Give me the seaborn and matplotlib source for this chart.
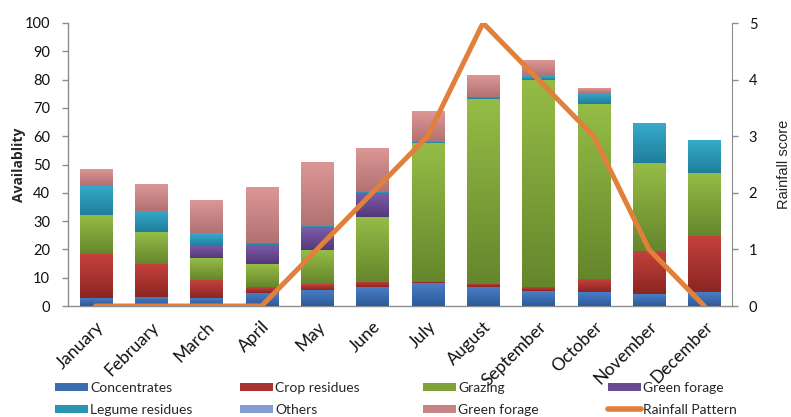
import numpy as np
import pandas as pd
import matplotlib
matplotlib.use("Agg")
import matplotlib.pyplot as plt
from matplotlib.colors import to_rgb
from matplotlib.patches import Patch
from matplotlib.lines import Line2D
import seaborn as sns

# ---- data -------------------------------------------------------------
months = ["January", "February", "March", "April", "May", "June", "July",
          "August", "September", "October", "November", "December"]

concentrates    = [3.0, 3.3, 2.9, 4.7, 5.7, 6.6, 8.0, 6.8, 5.3, 4.9, 4.2, 4.9]
crop_residues   = [15.3, 11.4, 6.3, 2.1, 2.1, 1.9, 0.5, 1.1, 1.3, 4.5, 15.2, 19.9]
grazing         = [13.9, 11.3, 7.6, 7.9, 12.0, 22.8, 49.0, 65.1, 73.3, 61.9, 31.0, 22.1]
green_forage_a  = [0.0, 0.0, 4.5, 6.8, 7.6, 8.2, 0.0, 0.0, 0.0, 0.0, 0.0, 0.0]
legume_residues = [10.6, 7.6, 4.4, 0.8, 0.9, 0.8, 0.5, 1.0, 1.3, 4.1, 14.1, 11.4]
others          = [0.0] * 12
green_forage_b  = [5.6, 9.2, 11.5, 19.6, 22.3, 15.4, 10.7, 7.5, 5.4, 1.5, 0.0, 0.0]

rainfall = [0, 0, 0, 0, 1, 2, 3, 5, 4, 3, 1, 0]

series_names = ["Concentrates", "Crop residues", "Grazing", "Green forage",
                "Legume residues", "Others", "Green forage"]
series_values = [concentrates, crop_residues, grazing, green_forage_a,
                 legume_residues, others, green_forage_b]
# (top colour, bottom colour) of each segment's vertical gradient
series_colors = [("#4a7ec6", "#2d5a9a"),
                 ("#c4423d", "#8c2522"),
                 ("#95bc46", "#66862c"),
                 ("#7d5ca8", "#533979"),
                 ("#37aacb", "#1f7f9b"),
                 ("#98b1e2", "#6e8bc4"),
                 ("#dd9696", "#b27272")]
rain_color = "#e0803a"
axis_gray = "#8c8c8c"

# ---- figure -----------------------------------------------------------
sns.set_style("white")
plt.rcParams["font.family"] = ["Lato", "DejaVu Sans"]

fig = plt.figure(figsize=(7.91, 4.17), dpi=100)
ax = fig.add_axes([68 / 791, 111 / 417, 664 / 791, 283 / 417])

df = pd.DataFrame({"month": months})
cum = np.zeros(12)
cums = []
for vals in series_values:
    cum = cum + np.array(vals)
    cums.append(cum.copy())
for k in range(len(series_values)):
    df[f"s{k}"] = cums[k]

bar_width = 0.58
# stacked bars: cumulative totals drawn from the top layer downwards
layer_patches = {}
for k in reversed(range(len(series_values))):
    n_before = len(ax.patches)
    sns.barplot(data=df, x="month", y=f"s{k}", order=months,
                color=series_colors[k][0], saturation=1, width=bar_width,
                errorbar=None, ax=ax, zorder=2)
    layer_patches[k] = ax.patches[n_before:]

# vertical gradient on every visible segment
grad = np.linspace(1, 0, 64).reshape(-1, 1)
for k in range(len(series_values)):
    top_c = np.array(to_rgb(series_colors[k][0]))
    bot_c = np.array(to_rgb(series_colors[k][1]))
    img = (grad[..., None] * top_c + (1 - grad[..., None]) * bot_c)
    for i, patch in enumerate(layer_patches[k]):
        lo = cums[k - 1][i] if k > 0 else 0.0
        hi = cums[k][i]
        if hi - lo <= 0:
            continue
        x0 = patch.get_x()
        ax.imshow(img, extent=[x0, x0 + patch.get_width(), lo, hi],
                  aspect="auto", interpolation="bilinear", zorder=3)

ax.set_xlim(-0.5, 11.5)
ax.set_ylim(0, 100)
ax.set_yticks(np.arange(0, 101, 10))
ax.set_xticks(range(12))
ax.set_xticklabels(months, rotation=45, ha="right", va="top",
                   rotation_mode="anchor", fontsize=12.5, color="#111111")
ax.set_xlabel("")
ax.set_ylabel("Availablity", fontsize=10, fontweight="bold",
              family="Open Sans")
ax.yaxis.set_label_coords(-0.063, 0.5)
ax.tick_params(axis="y", labelsize=10.5, colors="#111111", length=4,
               width=1, color=axis_gray, direction="out", left=True, pad=9)
ax.tick_params(axis="x", length=0, pad=9)
for s in ["top", "right"]:
    ax.spines[s].set_visible(False)
for s in ["left", "bottom"]:
    ax.spines[s].set_color(axis_gray)
    ax.spines[s].set_linewidth(1)

# rainfall pattern on the secondary axis
ax2 = ax.twinx()
sns.lineplot(x=np.arange(12), y=rainfall, ax=ax2, color=rain_color,
             linewidth=3.6, legend=False, solid_joinstyle="miter")
ax2.set_ylim(0, 5)
ax2.set_yticks(range(6))
ax2.set_xlim(-0.5, 11.5)
ax2.set_ylabel("Rainfall score", fontsize=10.5, family="Liberation Sans")
ax2.yaxis.set_label_coords(1.068, 0.5)
ax2.tick_params(axis="y", labelsize=10.5, colors="#111111", length=4,
                width=1, color=axis_gray, direction="out", right=True, pad=8)
for s in ["top", "left", "bottom"]:
    ax2.spines[s].set_visible(False)
ax2.spines["right"].set_color(axis_gray)

# legend laid out as four fixed columns
def mid(c):
    a, b = np.array(to_rgb(c[0])), np.array(to_rgb(c[1]))
    return tuple((a + b) / 2)

handles = [Patch(facecolor=mid(c), edgecolor="none") for c in series_colors]
handles.append(Line2D([0], [0], color=rain_color, linewidth=4,
                      solid_capstyle="round"))
labels = series_names + ["Rainfall Pattern"]
columns = [[0, 4], [1, 5], [2, 6], [3, 7]]
col_x = [55, 240, 423, 608]
for xpx, idx in zip(col_x, columns):
    fig.legend([handles[j] for j in idx], [labels[j] for j in idx],
               loc="upper left", bbox_to_anchor=(xpx / 791, 1 - 382 / 417),
               frameon=False, fontsize=10, handlelength=2.4,
               handleheight=0.55, handletextpad=0.15, labelspacing=0.72,
               borderpad=0, borderaxespad=0)

fig.savefig("out.png", dpi=100)
